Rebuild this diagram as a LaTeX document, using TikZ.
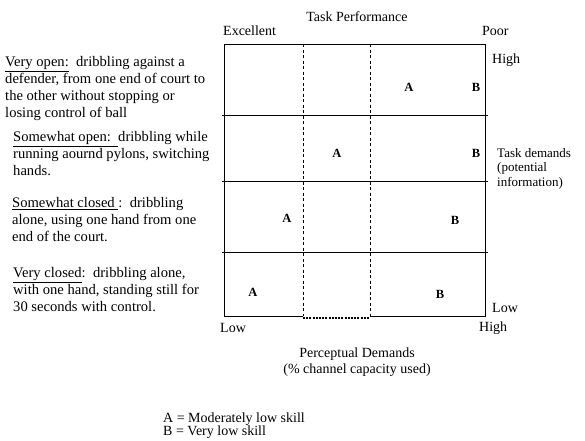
\documentclass[tikz,border=0pt]{standalone}
\usepackage{fontspec}
\setmainfont{Liberation Serif}
\begin{document}
\begin{tikzpicture}[x=1pt,y=-1pt,
  lbl/.style={inner sep=0pt, font=\fontsize{14}{16}\selectfont},
  desc/.style={inner sep=0pt, anchor=north west, align=left, font=\fontsize{14.6}{17}\selectfont},
  small/.style={inner sep=0pt, align=left, font=\fontsize{13}{14.5}\selectfont},
  letter/.style={inner sep=0pt, font=\bfseries\fontsize{12.5}{14}\selectfont},
  frame/.style={line width=0.9pt},
  divider/.style={line width=0.7pt, dash pattern=on 3pt off 2.5pt},
  dotseg/.style={line width=1.1pt, dash pattern=on 2pt off 1.2pt}]
\useasboundingbox (0,0) rectangle (585,440);
% grid
\coordinate (tl) at (224,44);
\coordinate (tr) at (485,44);
\coordinate (bl) at (224,316);
\coordinate (br) at (485,316);
\coordinate (bm1) at (303,316);
\coordinate (bm2) at (370,316);
\coordinate (bd1) at (303,318);
\coordinate (bd2) at (370,318);
\draw[frame] (bm1) -- (bl) -- (tl) -- (tr) -- (br) -- (bm2);
\draw[dotseg] (bd1) -- (bd2);
\coordinate (h1a) at (222,115); \coordinate (h1b) at (488,115);
\coordinate (h2a) at (222,181); \coordinate (h2b) at (488,181);
\coordinate (h3a) at (222,252); \coordinate (h3b) at (488,252);
\draw[frame] (h1a) -- (h1b);
\draw[frame] (h2a) -- (h2b);
\draw[frame] (h3a) -- (h3b);
\coordinate (d1a) at (303,44); \coordinate (d1b) at (303,316);
\coordinate (d2a) at (370,44); \coordinate (d2b) at (370,316);
\draw[divider] (d1a) -- (d1b);
\draw[divider] (d2a) -- (d2b);
% letters
\node[letter] (a1) at (409,87) {A};
\node[letter] (b1) at (476,87) {B};
\node[letter] (a2) at (337,153) {A};
\node[letter] (b2) at (476,153) {B};
\node[letter] (a3) at (287,218) {A};
\node[letter] (b3) at (455,220) {B};
\node[letter] (a4) at (253,292) {A};
\node[letter] (b4) at (440,294) {B};
% axis labels
\node[lbl] (tp) at (357,17) {Task Performance};
\node[lbl, anchor=west] (exc) at (223,31) {Excellent};
\node[lbl, anchor=west] (poor) at (482,31) {Poor};
\node[lbl, anchor=west] (high) at (492,60) {High};
\node[small, anchor=north west] (td) at (497,148) {Task demands\\(potential\\information)};
\node[lbl, anchor=west] (low) at (492,308) {Low};
\node[lbl, anchor=west] (xlow) at (220,328) {Low};
\node[lbl, anchor=west] (xhigh) at (479,328) {High};
\node[lbl, align=center] (pd) at (357,362) {Perceptual Demands\\(\% channel capacity used)};
\node[inner sep=0pt, anchor=north west, align=left, font=\fontsize{14}{13}\selectfont] (leg) at (163,413) {A = Moderately low skill\\B = Very low skill};
% descriptions
\node[desc] (vo) at (5,56) {\underline{Very open:}\ \ dribbling against a\\defender, from one end of court to\\the other without stopping or\\losing control of ball};
\node[desc] (so) at (13,131) {\underline{Somewhat open:\ \ }dribbling while\\running aournd pylons, switching\\hands.};
\node[desc] (sc) at (12,197) {\underline{Somewhat closed\ }:\ \ dribbling\\alone, using one hand from one\\end of the court.};
\node[desc] (vc) at (13,267) {\underline{Very closed}:\ \ dribbling alone,\\with one hand, standing still for\\30 seconds with control.};
\end{tikzpicture}
\end{document}
